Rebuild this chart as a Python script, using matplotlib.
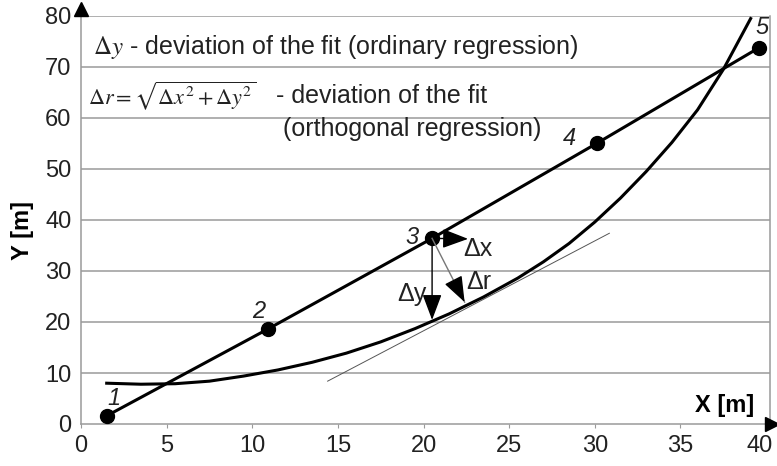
import matplotlib
matplotlib.use("Agg")
import matplotlib.pyplot as plt
import matplotlib.transforms as mtransforms
import numpy as np

plt.rcParams['font.family'] = ['Liberation Sans', 'DejaVu Sans']
plt.rcParams['mathtext.fontset'] = 'stix'

# measured points 1..5
pt_x = [1.5, 10.9, 20.5, 30.1, 39.6]
pt_y = [1.6, 18.6, 36.4, 55.0, 73.8]
pt_labels = ["1", "2", "3", "4", "5"]
pt_label_x = [1.9, 10.4, 19.3, 28.5, 39.75]
pt_label_y = [5.0, 22.0, 36.5, 56.0, 77.8]

# fitted curve
curve_x = [1.5, 3.5, 5.5, 7.5, 9.5, 11.5, 13.5, 15.5, 17.5, 19.5,
           21.5, 23.5, 25.5, 27.0, 28.5, 30.0, 31.5, 33.0, 34.5, 36.0,
           37.5, 39.1]
curve_y = [8.0, 7.8, 7.9, 8.4, 9.4, 10.6, 12.1, 13.9, 16.1, 18.7,
           21.6, 24.9, 28.6, 31.8, 35.4, 39.6, 44.3, 49.5, 55.2, 61.6,
           69.5, 79.5]

# tangent to the curve
tangent_x = [14.4, 30.85]
tangent_y = [8.4, 37.4]

# deviation arrows from point 3
arrow_start = (20.5, 36.4)
dx_end = (22.6, 36.3)
dy_end = (20.5, 20.4)
dr_end = (22.4, 23.9)

x_ticks = [0, 5, 10, 15, 20, 25, 30, 35, 40]
y_ticks = [0, 10, 20, 30, 40, 50, 60, 70, 80]

fig = plt.figure(figsize=(7.77, 4.66), dpi=100)
ax = fig.add_axes([81 / 777, 1 - 424 / 466, 689 / 777, 408 / 466])
ax.set_xlim(0, 40.23)
ax.set_ylim(0, 80)

grid_col = "#9a9a9a"
txt_col = "#222222"
for yv in y_ticks[1:]:
    ax.axhline(yv, color=grid_col, lw=1.1, zorder=1)
for side in ["left", "bottom", "right", "top"]:
    ax.spines[side].set_color(grid_col)
    ax.spines[side].set_linewidth(1.1)
ax.spines["top"].set_visible(False)

ax.set_xticks(x_ticks)
ax.set_yticks(y_ticks)
ax.tick_params(axis="x", length=3, color=grid_col, labelsize=17, pad=5, labelcolor=txt_col)
ax.tick_params(axis="y", length=0, labelsize=17, pad=7, labelcolor=txt_col)
# last x label sits a bit left so it is not cut
last = ax.get_xticklabels()[-1]
last.set_transform(last.get_transform() + mtransforms.ScaledTranslation(-6 / 100, 0, fig.dpi_scale_trans))

# axis arrows
ax.plot([0], [81.3], marker="^", ms=10, color="k", clip_on=False, zorder=6)
ax.plot([40.35], [0], marker=">", ms=10, color="k", clip_on=False, zorder=6)

# regression line through points and fitted curve
ax.plot(pt_x, pt_y, color="k", lw=2.2, zorder=3)
ax.plot(pt_x, pt_y, "o", color="k", ms=10, zorder=4)
ax.plot(curve_x, curve_y, color="k", lw=2.2, zorder=3, clip_on=False)
ax.plot(tangent_x, tangent_y, color="#555555", lw=0.7, zorder=2)

for lx, ly, t in zip(pt_label_x, pt_label_y, pt_labels):
    ax.text(lx, ly, t, fontsize=17, style="italic", ha="center", va="center", color=txt_col)

arr = dict(arrowstyle="-|>,head_length=0.8,head_width=0.3", lw=1.0, color="k",
           mutation_scale=20, shrinkA=0, shrinkB=0)
ax.annotate("", xy=dx_end, xytext=arrow_start, arrowprops=arr, zorder=5)
ax.annotate("", xy=dy_end, xytext=arrow_start, arrowprops=arr, zorder=5)
# grey shaft, black head for delta r
ax.plot([arrow_start[0], dr_end[0]], [arrow_start[1], dr_end[1]], color="#777777", lw=1.0, zorder=5)
head_from = (dr_end[0] - 0.3 * (dr_end[0] - arrow_start[0]),
             dr_end[1] - 0.3 * (dr_end[1] - arrow_start[1]))
ax.annotate("", xy=dr_end, xytext=head_from, arrowprops=arr, zorder=5)

ax.text(23.2, 34.4, "\u0394x", fontsize=18, ha="center", va="center", color=txt_col)
ax.text(23.2, 27.8, "\u0394r", fontsize=18, ha="center", va="center", color=txt_col)
ax.text(19.3, 25.5, "\u0394y", fontsize=18, ha="center", va="center", color=txt_col)

ax.text(0.7, 73.9, r"$\Delta y$ - deviation of the fit (ordinary regression)",
        fontsize=18, ha="left", va="center", color=txt_col)
ax.text(0.4, 64.3, r"$\Delta r = \sqrt{\Delta x^2 + \Delta y^2}$",
        fontsize=16, ha="left", va="center", color=txt_col)
ax.text(11.4, 64.3, "- deviation of the fit",
        fontsize=18, ha="left", va="center", color=txt_col)
ax.text(11.8, 57.8, "(orthogonal regression)",
        fontsize=18, ha="left", va="center", color=txt_col)

ax.text(37.6, 3.6, "X [m]", fontsize=17, fontweight="bold", ha="center", va="center")
fig.text(22 / 777, 1 - 230 / 466, "Y [m]", fontsize=17, fontweight="bold",
         rotation=90, ha="center", va="center")

fig.savefig("out.png", dpi=100)
